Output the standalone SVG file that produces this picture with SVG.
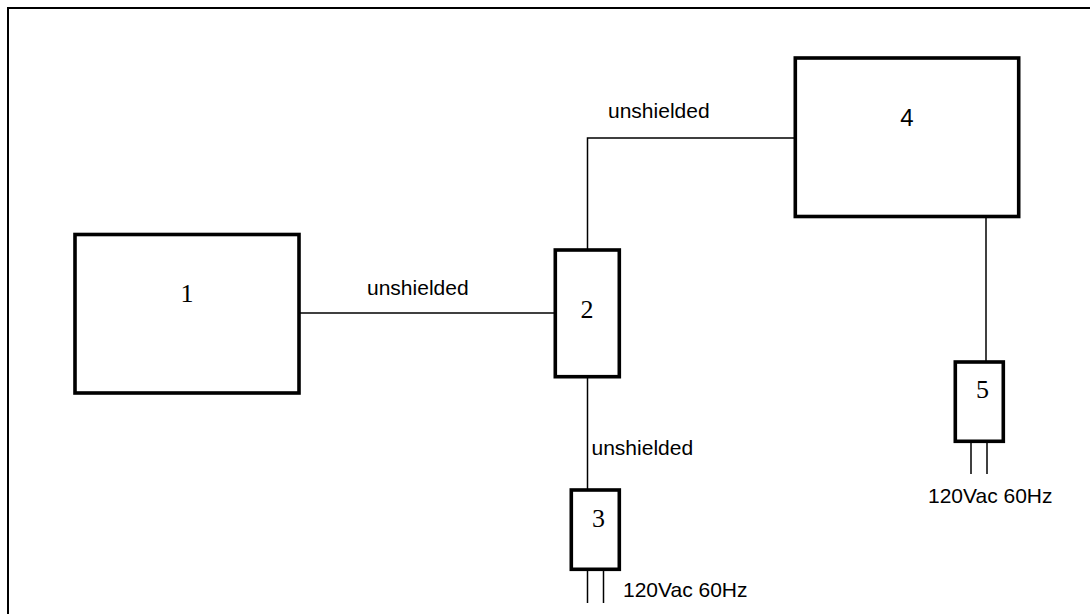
<svg xmlns="http://www.w3.org/2000/svg" width="1090" height="614" viewBox="0 0 1090 614">
<style>
.box{fill:#fff;stroke:#000;stroke-width:3.6}
.wire{fill:none;stroke:#000;stroke-width:1.5}
.lbl{font-family:"Liberation Sans",Arial,sans-serif;font-size:21px;fill:#000}
.num{font-family:"Liberation Serif","Times New Roman",serif;font-size:26px;fill:#000;text-anchor:middle}
.nums{font-family:"Liberation Sans",Arial,sans-serif;font-size:24px;fill:#000;text-anchor:middle}
</style>
<rect width="1090" height="614" fill="#fff"/>
<path d="M8,614 V8 H1090" fill="none" stroke="#000" stroke-width="2"/>
<g id="connectors">
<line class="wire" x1="299" y1="313" x2="555" y2="313"/>
<path class="wire" d="M587.5,250 V138 H795"/>
<line class="wire" x1="587.5" y1="377" x2="587.5" y2="490"/>
<line class="wire" x1="986" y1="217" x2="986" y2="362"/>
<line class="wire" x1="587.5" y1="570" x2="587.5" y2="603"/>
<line class="wire" x1="603.5" y1="570" x2="603.5" y2="603"/>
<line class="wire" x1="971" y1="442" x2="971" y2="474"/>
<line class="wire" x1="987" y1="442" x2="987" y2="474"/>
<text class="lbl" x="367" y="295">unshielded</text>
<text class="lbl" x="608" y="118">unshielded</text>
<text class="lbl" x="591.5" y="455">unshielded</text>
<text class="lbl" x="623" y="597">120Vac 60Hz</text>
<text class="lbl" x="928" y="503">120Vac 60Hz</text>
</g>
<g id="node1">
<rect class="box" x="75" y="234.5" width="224" height="158.5"/>
<text class="num" x="187" y="302">1</text>
</g>
<g id="node2">
<rect class="box" x="555.3" y="250" width="64" height="126.7"/>
<text class="num" x="587" y="318">2</text>
</g>
<g id="node3">
<rect class="box" x="571.3" y="490" width="48" height="79.3"/>
<text class="num" x="598.5" y="527">3</text>
</g>
<g id="node4">
<rect class="box" x="795.3" y="58" width="223.4" height="158.5"/>
<text class="nums" x="907" y="126">4</text>
</g>
<g id="node5">
<rect class="box" x="955.3" y="362" width="48" height="79.3"/>
<text class="num" x="982.5" y="398">5</text>
</g>
</svg>
